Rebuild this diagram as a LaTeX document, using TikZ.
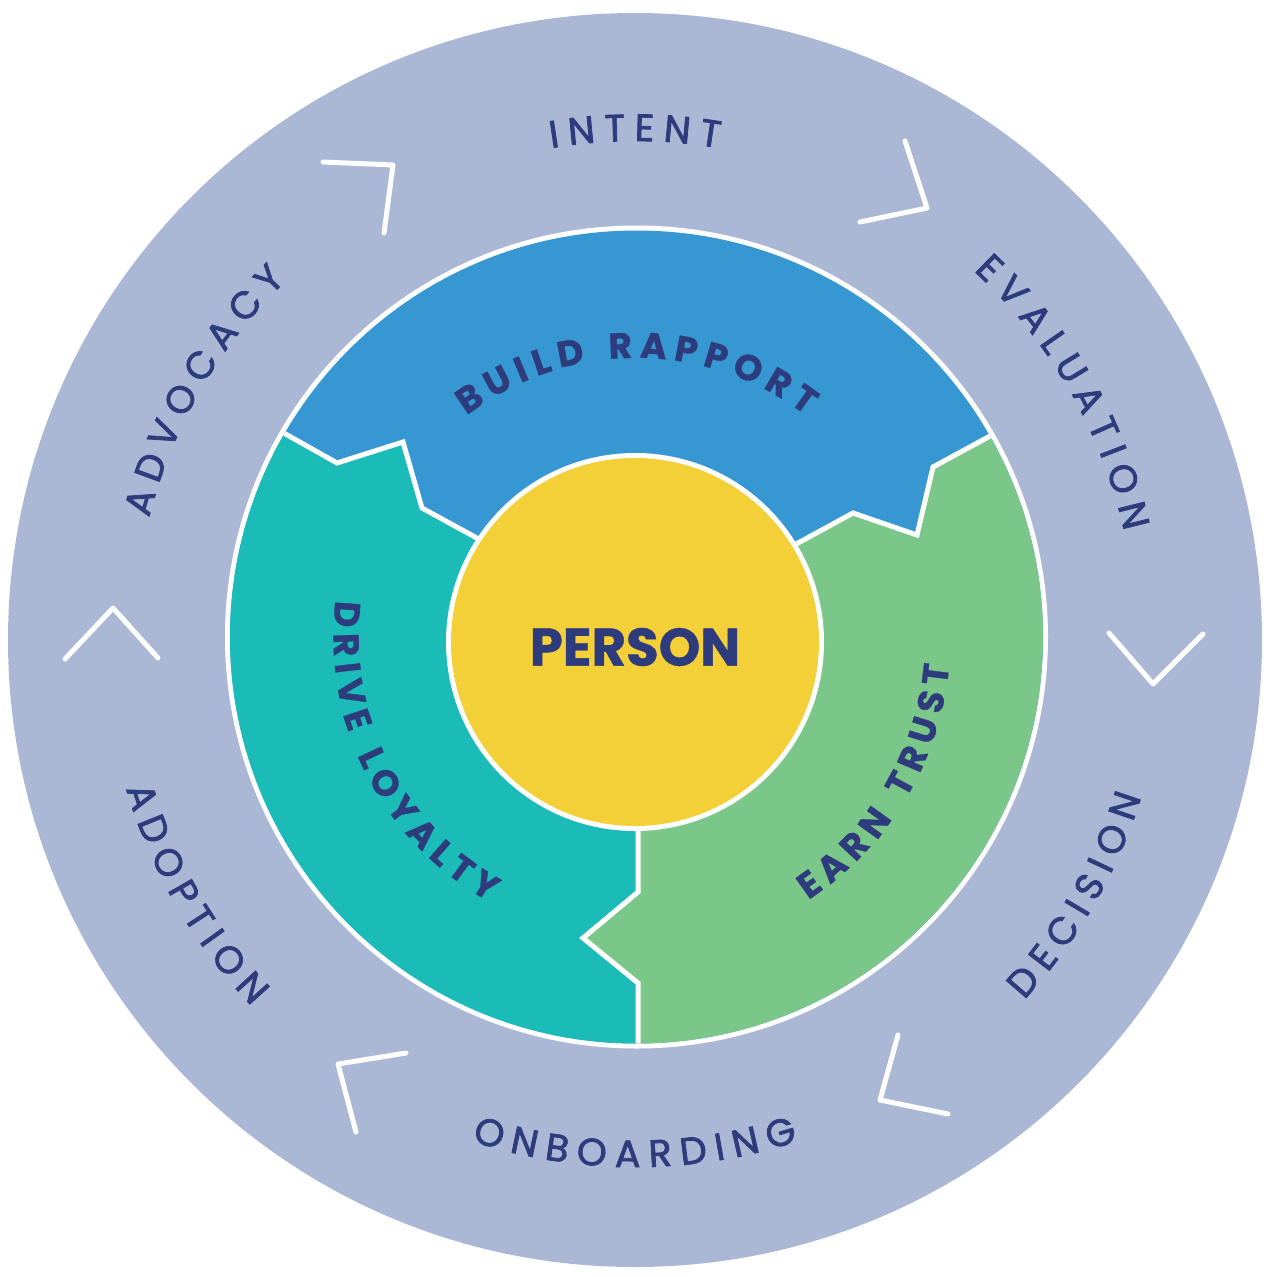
\documentclass[tikz,border=0pt]{standalone}
\usepackage{fontspec}
\newfontfamily\pop{Poppins}
\newfontfamily\popo[FakeBold=2]{Poppins}
\newfontfamily\popb[BoldFeatures={FakeBold=0.8}]{Poppins}
\usetikzlibrary{decorations.text}
\definecolor{ringbg}{HTML}{AAB7D5}
\definecolor{cblue}{HTML}{3797D3}
\definecolor{cteal}{HTML}{1BBCB8}
\definecolor{cgreen}{HTML}{7BC689}
\definecolor{cyellow}{HTML}{F4D038}
\definecolor{navy}{HTML}{2E3B7C}
\newcommand\ofont{\popo\fontsize{38}{44}\selectfont\color{navy}}
\newcommand\ifont{\popb\bfseries\fontsize{36}{42}\selectfont\color{navy}}
\begin{document}
\begin{tikzpicture}[x=1pt,y=1pt,
  sepline/.style={white,line width=5pt,line join=miter},
  chev/.style={white,line width=5pt,line cap=round,line join=round}]
\useasboundingbox (0,0) rectangle (1271,-1277);
\coordinate (O) at (635,-640);
\coordinate (R) at (636.5,-637);
\coordinate (P) at (635,-642);
% outer ring
\fill[ringbg] (O) circle[radius=627];
\fill[white] (R) circle[radius=411.5];
\begin{scope}
\clip (R) circle[radius=406.5];
\fill[cblue] (R) circle[radius=420];
\fill[cteal] (150,-401) -- (227,-401) -- (337,-463) -- (403,-442) -- (422,-508) -- (475,-537) -- (636,-640) -- (638,-892) -- (583,-938) -- (638,-983) -- (638,-1100) -- (150,-1100) -- cycle;
\fill[cgreen] (1150,-403) -- (1051,-403) -- (933,-467) -- (917,-535) -- (853,-513) -- (798,-543) -- (636,-640) -- (638,-892) -- (583,-938) -- (638,-983) -- (638,-1100) -- (1150,-1100) -- cycle;
\draw[sepline] (227,-401) -- (337,-463) -- (403,-442) -- (422,-508) -- (475,-537) -- (501,-552);
\draw[sepline] (1051,-403) -- (933,-467) -- (917,-535) -- (853,-513) -- (798,-543) -- (771,-558);
\draw[sepline] (638,-800) -- (638,-892) -- (583,-938) -- (638,-983) -- (638,-1100);
\end{scope}
% person
\fill[white] (P) circle[radius=189];
\fill[cyellow] (P) circle[radius=184];
\node[font=\popb\bfseries\fontsize{53}{60}\selectfont, text=navy] (person) at (635,-647) {PERSON};
% inner labels
\path[navy,shift={(636.5,-637)},decorate,decoration={text along path,text align=center,
  text={|\ifont|{B\kern7pt}{U\kern7pt}{I\kern7pt}{L\kern7pt}{D\kern24pt}{R\kern7pt}{A\kern7pt}{P\kern7pt}{P\kern7pt}{O\kern7pt}{R\kern7pt}T}}]
  (160:279) arc[start angle=160,end angle=20,radius=279];
\path[navy,shift={(636.5,-637)},decorate,decoration={text along path,text align=center,
  text={|\ifont|{E\kern7pt}{A\kern7pt}{R\kern7pt}{N\kern24pt}{T\kern7pt}{R\kern7pt}{U\kern7pt}{S\kern7pt}T}}]
  (-101:314) arc[start angle=-101,end angle=39,radius=314];
\path[navy,shift={(636.5,-637)},decorate,decoration={text along path,text align=center,
  text={|\ifont|{D\kern7pt}{R\kern7pt}{I\kern7pt}{V\kern7pt}{E\kern24pt}{L\kern7pt}{O\kern7pt}{Y\kern7pt}{A\kern7pt}{L\kern7pt}{T\kern7pt}Y}}]
  (137:303) arc[start angle=137,end angle=277,radius=303];
% outer labels
\path[navy,shift={(635,-640)},decorate,decoration={text along path,text align=center,
  text={|\ofont|{I\kern9pt}{N\kern9pt}{T\kern9pt}{E\kern9pt}{N\kern9pt}T}}]
  (140:499) arc[start angle=140,end angle=40,radius=499];
\path[navy,shift={(635,-640)},decorate,decoration={text along path,text align=center,
  text={|\ofont|{E\kern9pt}{V\kern9pt}{A\kern9pt}{L\kern9pt}{U\kern9pt}{A\kern9pt}{T\kern9pt}{I\kern9pt}{O\kern9pt}N}}]
  (80:501) arc[start angle=80,end angle=-20,radius=501];
\path[navy,shift={(635,-640)},decorate,decoration={text along path,text align=center,
  text={|\ofont|{A\kern9pt}{D\kern9pt}{V\kern9pt}{O\kern9pt}{C\kern9pt}{A\kern9pt}{C\kern9pt}Y}}]
  (200:501) arc[start angle=200,end angle=100,radius=501];
\path[navy,shift={(635,-640)},decorate,decoration={text along path,text align=center,
  text={|\ofont|{O\kern9pt}{N\kern9pt}{B\kern9pt}{O\kern9pt}{A\kern9pt}{R\kern9pt}{D\kern9pt}{I\kern9pt}{N\kern9pt}G}}]
  (-140:527) arc[start angle=-140,end angle=-40,radius=527];
\path[navy,shift={(635,-640)},decorate,decoration={text along path,text align=center,
  text={|\ofont|{D\kern9pt}{E\kern9pt}{C\kern9pt}{I\kern9pt}{S\kern9pt}{I\kern9pt}{O\kern9pt}N}}]
  (-80:530) arc[start angle=-80,end angle=20,radius=530];
\path[navy,shift={(635,-640)},decorate,decoration={text along path,text align=center,
  text={|\ofont|{A\kern9pt}{D\kern9pt}{O\kern9pt}{P\kern9pt}{T\kern9pt}{I\kern9pt}{O\kern9pt}N}}]
  (160:530) arc[start angle=160,end angle=260,radius=530];
% chevrons
\draw[chev] (323,-162) -- (393,-165) -- (384,-233);
\draw[chev] (905,-141) -- (927,-208) -- (860,-222);
\draw[chev] (65,-659) -- (113,-608) -- (158,-658);
\draw[chev] (1109,-633) -- (1153,-684) -- (1203,-634);
\draw[chev] (406,-1053) -- (338,-1064) -- (356,-1132);
\draw[chev] (898,-1035) -- (880,-1100) -- (948,-1114);
\end{tikzpicture}
\end{document}
